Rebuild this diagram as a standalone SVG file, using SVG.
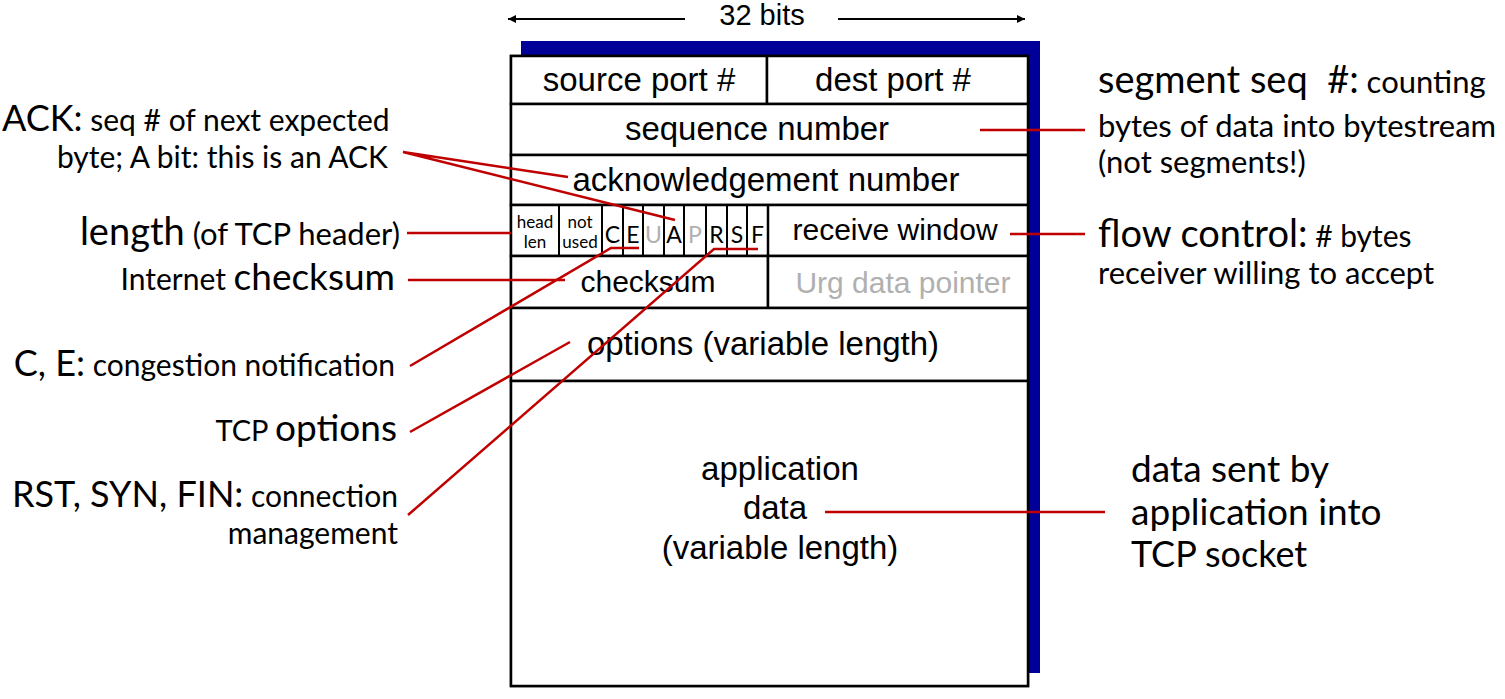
<svg xmlns="http://www.w3.org/2000/svg" width="1505" height="699" viewBox="0 0 1505 699">
<defs>
<marker id="ah" viewBox="0 0 10 10" refX="10" refY="5" markerWidth="10" markerHeight="8" markerUnits="userSpaceOnUse" orient="auto"><path d="M0,0 L10,5 L0,10 z" fill="#000"/></marker>
</defs>
<style>
.cell{fill:#fff;stroke:#000;stroke-width:2.5}
.t{font-family:"Liberation Sans",Arial,sans-serif;fill:#000;text-anchor:middle}
.g{fill:#b0b0b0}
.a{font-family:Lato,"Open Sans",sans-serif;fill:#000}
.r{stroke:#c00000;stroke-width:2.5;fill:none}
</style>
<rect width="1505" height="699" fill="#fff"/>
<g id="width-arrow">
<line x1="685" y1="19" x2="508" y2="19" stroke="#000" stroke-width="2" marker-end="url(#ah)"/>
<line x1="838" y1="19" x2="1025" y2="19" stroke="#000" stroke-width="2" marker-end="url(#ah)"/>
<text class="t" x="762" y="25" font-size="29">32 bits</text>
</g>
<g id="shadow"><rect x="521" y="41" width="519" height="632" fill="#000099"/></g>
<g id="header">
<rect class="cell" x="511" y="56" width="517" height="630"/>
<g id="row-ports">
<rect class="cell" x="511" y="56" width="256" height="48"/>
<rect class="cell" x="767" y="56" width="261" height="48"/>
<text class="t" x="639" y="91" font-size="33">source port #</text>
<text class="t" x="893" y="91" font-size="33">dest port #</text>
</g>
<g id="row-seq">
<rect class="cell" x="511" y="104" width="517" height="51"/>
<text class="t" x="757" y="140" font-size="33">sequence number</text>
</g>
<g id="row-ack">
<rect class="cell" x="511" y="155" width="517" height="50"/>
<text class="t" x="766" y="191" font-size="33">acknowledgement number</text>
</g>
<g id="row-flags">
<rect class="cell" x="511" y="205" width="517" height="51"/>
<g fill="none" stroke="#000" stroke-width="2">
<line x1="559" y1="205" x2="559" y2="256"/>
<line x1="602" y1="205" x2="602" y2="256"/>
<line x1="623" y1="205" x2="623" y2="256"/>
<line x1="643" y1="205" x2="643" y2="256"/>
<line x1="664" y1="205" x2="664" y2="256"/>
<line x1="684" y1="205" x2="684" y2="256"/>
<line x1="706" y1="205" x2="706" y2="256"/>
<line x1="727" y1="205" x2="727" y2="256"/>
<line x1="747" y1="205" x2="747" y2="256"/>
</g>
<line x1="768" y1="205" x2="768" y2="256" stroke="#000" stroke-width="2.5"/>
<text class="a" x="535" y="228" font-size="17" text-anchor="middle">head</text>
<text class="a" x="535" y="248" font-size="17" text-anchor="middle">len</text>
<text class="a" x="580" y="228" font-size="17" text-anchor="middle">not</text>
<text class="a" x="580" y="248" font-size="17" text-anchor="middle">used</text>
<g font-size="23" text-anchor="middle" font-family="Lato,'Open Sans',sans-serif">
<text x="612.5" y="243">C</text>
<text x="633" y="243">E</text>
<text x="653.5" y="243" fill="#b0b0b0">U</text>
<text x="674" y="243">A</text>
<text x="695" y="243" fill="#b0b0b0">P</text>
<text x="716.5" y="243">R</text>
<text x="737" y="243">S</text>
<text x="757.5" y="243">F</text>
</g>
<text class="t" x="895" y="240" font-size="30">receive window</text>
</g>
<g id="row-checksum">
<rect class="cell" x="511" y="256" width="257" height="52"/>
<rect class="cell" x="768" y="256" width="260" height="52"/>
<text class="t" x="648" y="292" font-size="30">checksum</text>
<text class="t g" x="903" y="293" font-size="30">Urg data pointer</text>
</g>
<g id="row-options">
<rect class="cell" x="511" y="308" width="517" height="73"/>
<text class="t" x="763" y="355" font-size="33">options (variable length)</text>
</g>
<g id="row-data">
<rect class="cell" x="511" y="381" width="517" height="305"/>
<text class="t" x="780" y="480" font-size="33">application</text>
<text class="t" x="775" y="519" font-size="33">data</text>
<text class="t" x="780" y="559" font-size="33">(variable length)</text>
</g>
</g>
<g id="connectors">
<polyline class="r" points="568,177 403,152 675,220"/>
<line class="r" x1="407" y1="233" x2="511" y2="233"/>
<line class="r" x1="408" y1="280" x2="565" y2="280"/>
<polyline class="r" points="410,366 611,248 639,248"/>
<line class="r" x1="410" y1="432" x2="570" y2="342"/>
<polyline class="r" points="408,515 714,249 758,249"/>
<line class="r" x1="980" y1="130" x2="1085" y2="130"/>
<line class="r" x1="1010" y1="234" x2="1085" y2="234"/>
<line class="r" x1="825" y1="512" x2="1105" y2="512"/>
</g>
<g id="label-ack">
<text class="a" x="2" y="131" font-size="30"><tspan font-size="36">ACK:</tspan> seq # of next expected</text>
<text class="a" x="388" y="168" font-size="30" text-anchor="end">byte; A bit: this is an ACK</text>
</g>
<g id="label-length"><text class="a" x="400" y="245" font-size="31" text-anchor="end"><tspan font-size="38">length</tspan> (of TCP header)</text></g>
<g id="label-checksum"><text class="a" x="395" y="290" font-size="30" text-anchor="end">Internet <tspan font-size="37">checksum</tspan></text></g>
<g id="label-ce"><text class="a" x="395" y="376" font-size="30" text-anchor="end"><tspan font-size="36">C, E:</tspan> congestion notification</text></g>
<g id="label-options"><text class="a" x="397" y="441" font-size="29" text-anchor="end">TCP <tspan font-size="37">options</tspan></text></g>
<g id="label-rsf">
<text class="a" x="398" y="507" font-size="30" text-anchor="end"><tspan font-size="36">RST, SYN, FIN:</tspan> connection</text>
<text class="a" x="398" y="544" font-size="30" text-anchor="end">management</text>
</g>
<g id="label-seq">
<text class="a" x="1098" y="93" font-size="31"><tspan font-size="38">segment seq&#160; #:</tspan> counting</text>
<text class="a" x="1098" y="137" font-size="31">bytes of data into bytestream</text>
<text class="a" x="1098" y="173" font-size="31">(not segments!)</text>
</g>
<g id="label-flow">
<text class="a" x="1098" y="247" font-size="30"><tspan font-size="38">flow control:</tspan> # bytes</text>
<text class="a" x="1098" y="284" font-size="31">receiver willing to accept</text>
</g>
<g id="label-data">
<text class="a" x="1131" y="482" font-size="37">data sent by</text>
<text class="a" x="1131" y="525" font-size="37">application into</text>
<text class="a" x="1131" y="567" font-size="36">TCP socket</text>
</g>
</svg>
